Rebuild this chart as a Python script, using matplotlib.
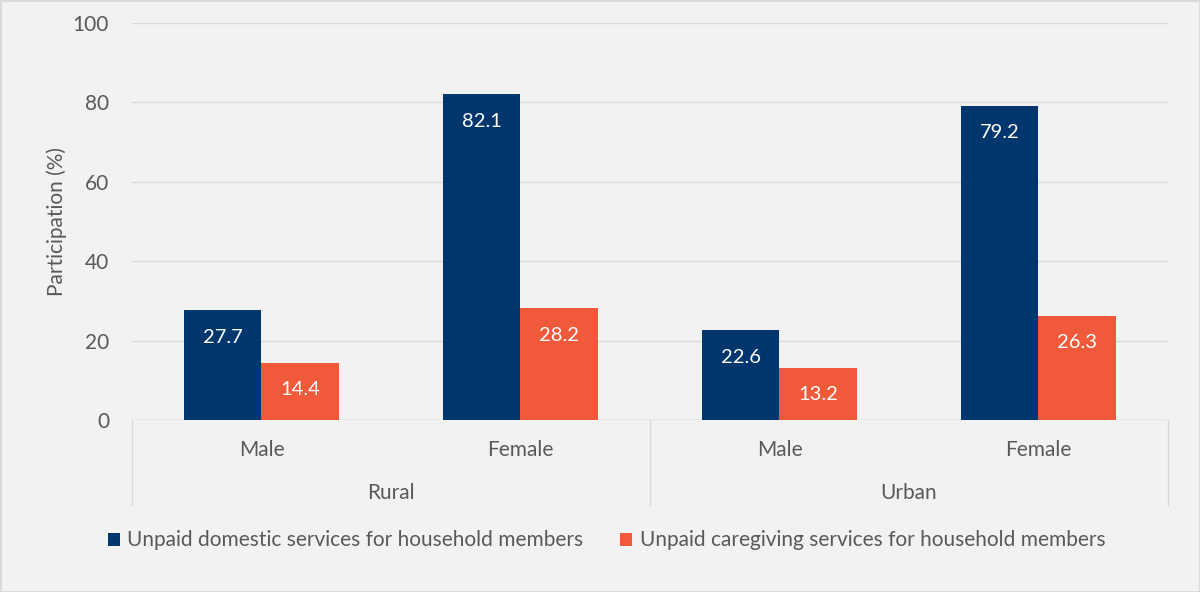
import matplotlib
matplotlib.use("Agg")
import matplotlib.pyplot as plt
from matplotlib.patches import Rectangle
import numpy as np

groups = ["Rural", "Urban"]
sexes = ["Male", "Female"]
series_names = ["Unpaid domestic services for household members",
                "Unpaid caregiving services for household members"]
domestic = [27.7, 82.1, 22.6, 79.2]
caregiving = [14.4, 28.2, 13.2, 26.3]
yticks = [0, 20, 40, 60, 80, 100]

colors = ["#00366E", "#F05A3A"]
txt = "#595959"
grid = "#D9D9D9"
bg = "#F2F2F2"

plt.rcParams['font.family'] = ['Lato', 'DejaVu Sans']
fs = 15

fig = plt.figure(figsize=(12, 5.92), dpi=100, facecolor=bg)
ax = fig.add_axes([0.11, 0.2905, 0.8633, 0.6706])
ax.set_facecolor(bg)

n = len(domestic)
x = np.arange(n)
w = 0.3
b1 = ax.bar(x - w/2, domestic, w, color=colors[0], label=series_names[0], zorder=3)
b2 = ax.bar(x + w/2, caregiving, w, color=colors[1], label=series_names[1], zorder=3)

for bars, vals in ((b1, domestic), (b2, caregiving)):
    for r, v in zip(bars, vals):
        ax.annotate(f"{v:.1f}", (r.get_x() + r.get_width()/2, v), xytext=(0, -27),
                    textcoords="offset pixels",
                    ha="center", va="center", color="white", fontsize=14.5, zorder=4)

ax.set_xlim(-0.5, n - 0.5)
ax.set_ylim(0, 100)
ax.set_yticks(yticks)
ax.tick_params(axis='y', length=0, labelsize=fs, labelcolor=txt, pad=16.5)
ax.set_xticks([])
ax.yaxis.grid(True, color=grid, linewidth=1, zorder=0)
for s in ax.spines.values():
    s.set_visible(False)
ax.axhline(0, color=grid, linewidth=1, zorder=2)
ax.set_ylabel("Participation (%)", fontsize=fs, color=txt, labelpad=4)

# category labels and group separators
trans = ax.get_xaxis_transform()
for i in range(n):
    ax.text(x[i], -0.075, sexes[i % 2], transform=trans, ha="center", va="center",
            fontsize=fs, color=txt)
for gi, g in enumerate(groups):
    ax.text(gi * 2 + 0.5, -0.185, g, transform=trans, ha="center", va="center",
            fontsize=fs, color=txt)
for xv in [-0.5, 1.5, 3.5]:
    ax.plot([xv, xv], [0, -0.215], transform=trans, color=grid, linewidth=1, clip_on=False)

leg = fig.legend(handles=[b1, b2], loc="center left", bbox_to_anchor=(0.074, 0.087),
                 ncol=2, frameon=False, fontsize=fs, handlelength=0.6, handleheight=0.6,
                 handletextpad=0.35, columnspacing=1.75, labelcolor=txt)

fig.patches.append(Rectangle((0, 0), 1, 1, transform=fig.transFigure, fill=False,
                             edgecolor=grid, linewidth=2))

fig.savefig("out.png", dpi=100, facecolor=bg)
